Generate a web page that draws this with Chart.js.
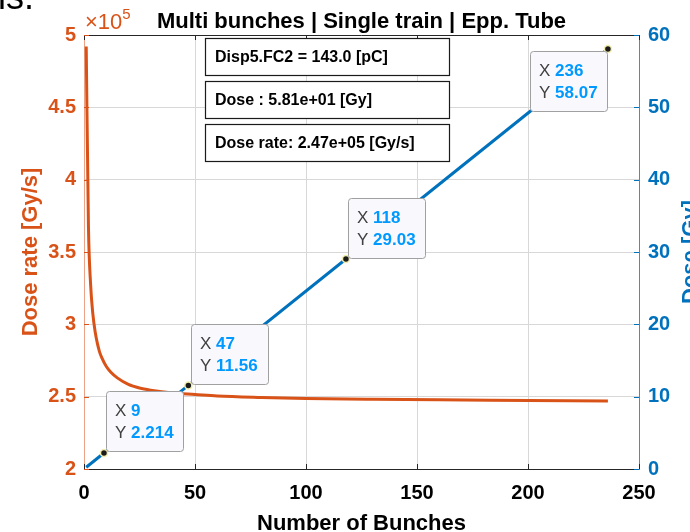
<!DOCTYPE html>
<html>
<head>
<meta charset="utf-8">
<script src="https://cdn.jsdelivr.net/npm/chart.js@4"></script>
<style>
  html, body { margin: 0; padding: 0; background: #fff; overflow: hidden; }
  #wrap { width: 690px; height: 532px; }
</style>
</head>
<body>
<div id="wrap"><canvas id="chart" width="690" height="532"></canvas></div>
<script>
// dose rate vs. number of bunches (Gy/s)
const rateBunches = [1, 2, 3, 4, 5, 6, 7, 8, 10, 12, 15, 20, 25, 30, 40, 50, 60, 80, 100, 130, 160, 200, 236];
const doseRate = [492000, 368000, 327000, 307000, 295000, 287000, 281000, 277000, 271000, 267000, 263000,
                  258500, 256000, 254500, 252500, 251500, 250500, 249500, 248800, 248200, 247800, 247400, 247000];

// accumulated dose (Gy)
const doseBunches = [1, 9, 47, 118, 236];
const dose = [0.246, 2.214, 11.56, 29.03, 58.07];

// data tips
const tipBunches = [9, 47, 118, 236];
const tipDose = [2.214, 11.56, 29.03, 58.07];

const xTicks = [0, 50, 100, 150, 200, 250];
const rateTicks = [200000, 250000, 300000, 350000, 400000, 450000, 500000];
const doseTicks = [0, 10, 20, 30, 40, 50, 60];

const infoLines = ['Disp5.FC2 = 143.0 [pC]', 'Dose : 5.81e+01 [Gy]', 'Dose rate: 2.47e+05 [Gy/s]'];
const titleText = 'Multi bunches | Single train | Epp. Tube';

const FONT = '"Liberation Sans", Arial, Helvetica, sans-serif';
const ORANGE = '#D95319';
const BLUE = '#0072BD';
const TIPBLUE = '#0099FF';

function seg(ctx, x1, y1, x2, y2) {
    ctx.beginPath();
    ctx.moveTo(x1, y1);
    ctx.lineTo(x2, y2);
    ctx.stroke();
}

// frame + inward tick marks, matlab style
const frame = {
    id: 'frame',
    beforeDatasetsDraw(chart) {
        const {ctx, chartArea: a, scales} = chart;
        ctx.save();
        ctx.lineWidth = 1;
        ctx.strokeStyle = '#262626';
        seg(ctx, a.left, a.top + 0.5, a.right, a.top + 0.5);
        xTicks.forEach(v => {
            const px = Math.round(scales.x.getPixelForValue(v)) + 0.5;
            seg(ctx, px, a.bottom, px, a.bottom - 5);
            seg(ctx, px, a.top, px, a.top + 5);
        });
        ctx.strokeStyle = ORANGE;
        rateTicks.forEach(v => {
            const py = Math.round(scales.yRate.getPixelForValue(v)) + 0.5;
            seg(ctx, a.left, py, a.left + 5, py);
        });
        ctx.strokeStyle = BLUE;
        doseTicks.forEach(v => {
            const py = Math.round(scales.yDose.getPixelForValue(v)) + 0.5;
            seg(ctx, a.right, py, a.right - 5, py);
        });
        ctx.restore();
    }
};

function roundRect(ctx, x, y, w, h, r) {
    ctx.beginPath();
    ctx.moveTo(x + r, y);
    ctx.arcTo(x + w, y, x + w, y + h, r);
    ctx.arcTo(x + w, y + h, x, y + h, r);
    ctx.arcTo(x, y + h, x, y, r);
    ctx.arcTo(x, y, x + w, y, r);
    ctx.closePath();
}

// text boxes, data tips, titles
const overlay = {
    id: 'overlay',
    afterDraw(chart) {
        const {ctx, chartArea: a, scales} = chart;
        ctx.save();

        // info boxes
        const boxTops = [38.5, 81.5, 124.5];
        ctx.font = 'bold 16px ' + FONT;
        ctx.textBaseline = 'middle';
        ctx.textAlign = 'left';
        infoLines.forEach((t, i) => {
            ctx.fillStyle = '#fff';
            ctx.fillRect(205.5, boxTops[i], 244, 37);
            ctx.strokeStyle = '#1a1a1a';
            ctx.lineWidth = 1.2;
            ctx.strokeRect(205.5, boxTops[i], 244, 37);
            ctx.fillStyle = '#000';
            ctx.fillText(t, 215, boxTops[i] + 19);
        });

        // data tips
        const w = 77, h = 60;
        tipBunches.forEach((n, i) => {
            const px = scales.x.getPixelForValue(n);
            const py = scales.yDose.getPixelForValue(tipDose[i]);
            let bx, by;
            if (i === tipBunches.length - 1) {
                bx = px - w - 1;
                by = py + 2;
            } else {
                bx = px + 2.5;
                by = py - h - 1.5;
            }
            bx = Math.round(bx) + 0.5;
            by = Math.round(by) + 0.5;
            roundRect(ctx, bx, by, w, h, 3);
            ctx.fillStyle = '#f8f8fd';
            ctx.fill();
            ctx.strokeStyle = '#a0a0a0';
            ctx.lineWidth = 1;
            ctx.stroke();

            ctx.textBaseline = 'middle';
            ctx.font = '17px ' + FONT;
            ctx.fillStyle = '#404040';
            ctx.fillText('X', bx + 8.5, by + 20);
            ctx.fillText('Y', bx + 8.5, by + 42);
            const off = ctx.measureText('Y ').width;
            ctx.font = 'bold 17px ' + FONT;
            ctx.fillStyle = TIPBLUE;
            ctx.fillText(String(n), bx + 8.5 + off, by + 20);
            ctx.fillText(tipDose[i].toFixed(i === 0 ? 3 : 2), bx + 8.5 + off, by + 42);
        });

        // title
        ctx.textBaseline = 'alphabetic';
        ctx.textAlign = 'center';
        ctx.fillStyle = '#000';
        ctx.font = 'bold 22px ' + FONT;
        ctx.fillText(titleText, (a.left + a.right) / 2, 28);

        // x label
        ctx.fillText('Number of Bunches', (a.left + a.right) / 2, 530);

        // y labels
        const midY = (a.top + a.bottom) / 2;
        ctx.save();
        ctx.translate(37, midY);
        ctx.rotate(-Math.PI / 2);
        ctx.fillStyle = ORANGE;
        ctx.fillText('Dose rate [Gy/s]', 0, 0);
        ctx.restore();

        ctx.save();
        ctx.translate(697, midY);
        ctx.rotate(-Math.PI / 2);
        ctx.fillStyle = BLUE;
        ctx.fillText('Dose [Gy]', 0, 0);
        ctx.restore();

        // exponent of the left axis
        ctx.textAlign = 'left';
        ctx.fillStyle = ORANGE;
        ctx.font = '22px ' + FONT;
        ctx.fillText('\u00d710', 85, 29);
        const ew = ctx.measureText('\u00d710').width;
        ctx.font = '15px ' + FONT;
        ctx.fillText('5', 85 + ew, 19);

        // leftover text from the page above
        ctx.fillStyle = '#000';
        ctx.font = '36px ' + FONT;
        ctx.fillText('is.', -2, 9);

        ctx.restore();
    }
};

const tickFont = {family: FONT, size: 20, weight: 'bold'};

new Chart(document.getElementById('chart').getContext('2d'), {
    type: 'line',
    data: {
        datasets: [{
            type: 'scatter',
            label: 'tips',
            data: tipBunches.map((x, i) => ({x: x, y: tipDose[i]})),
            yAxisID: 'yDose',
            pointRadius: 3.5,
            pointBackgroundColor: '#1a1a1a',
            pointBorderColor: '#f3eeb0',
            pointBorderWidth: 1.5,
            order: 0
        }, {
            label: 'Dose',
            data: doseBunches.map((x, i) => ({x: x, y: dose[i]})),
            yAxisID: 'yDose',
            borderColor: BLUE,
            borderWidth: 3,
            pointRadius: 0,
            order: 1
        }, {
            label: 'Dose rate',
            data: rateBunches.map((x, i) => ({x: x, y: doseRate[i]})),
            yAxisID: 'yRate',
            borderColor: ORANGE,
            borderWidth: 3,
            pointRadius: 0,
            cubicInterpolationMode: 'monotone',
            order: 2
        }]
    },
    options: {
        responsive: false,
        animation: false,
        events: [],
        layout: {padding: {top: 35}},
        plugins: {legend: {display: false}, tooltip: {enabled: false}},
        scales: {
            x: {
                type: 'linear',
                min: 0, max: 250,
                afterBuildTicks: s => { s.ticks = xTicks.map(v => ({value: v})); },
                ticks: {color: '#000', font: tickFont, padding: 12, maxRotation: 0},
                grid: {color: '#d8d8d8', drawTicks: false},
                border: {color: '#262626'},
                afterFit: s => { s.height = 63; }
            },
            yRate: {
                position: 'left',
                min: 200000, max: 500000,
                afterBuildTicks: s => { s.ticks = rateTicks.map(v => ({value: v})); },
                ticks: {color: ORANGE, font: tickFont, padding: 8, callback: v => String(v / 1e5)},
                grid: {color: '#d8d8d8', drawTicks: false},
                border: {color: '#eba286'},
                afterFit: s => { s.width = 84; }
            },
            yDose: {
                position: 'right',
                min: 0, max: 60,
                afterBuildTicks: s => { s.ticks = doseTicks.map(v => ({value: v})); },
                ticks: {color: BLUE, font: tickFont, padding: 9},
                grid: {display: false, drawTicks: false},
                border: {color: '#3d8fd0'},
                afterFit: s => { s.width = 51; }
            }
        }
    },
    plugins: [frame, overlay]
});
</script>
</body>
</html>
